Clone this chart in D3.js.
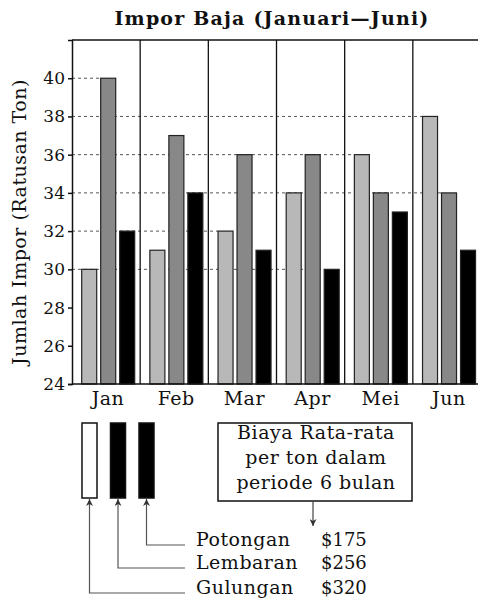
<!DOCTYPE html>
<html>
<head>
<meta charset="utf-8">
<script src="https://cdn.jsdelivr.net/npm/d3@7"></script>
<style>
  body { margin: 0; background: #fff; }
  svg text { font-family: "DejaVu Serif", serif; fill: #111; }
  .word { font-size: 19px; letter-spacing: 0.5px; }
</style>
</head>
<body>
<div id="graph"></div>
<script>
// data
let months = ['Jan', 'Feb', 'Mar', 'Apr', 'Mei', 'Jun']
let series = ['Gulungan', 'Lembaran', 'Potongan']
let gulungan = [30, 31, 32, 34, 36, 38]
let lembaran = [40, 37, 36, 36, 34, 34]
let potongan = [32, 34, 31, 30, 33, 31]
let yTicks = [24, 26, 28, 30, 32, 34, 36, 38, 40]
let prices = [320, 256, 175]
let boxLines = ['Biaya Rata-rata', 'per ton dalam', 'periode 6 bulan']

let barColors = ['#b8b8b8', '#888888', '#000000']
let swatchColors = ['#ffffff', '#000000', '#000000']

let values = [gulungan, lembaran, potongan]
let rows = []
months.forEach((m, i) => {
    series.forEach((s, j) => {
        rows.push({ month: m, series: s, value: values[j][i], idx: j })
    })
})

let width = 478, height = 603
let margin = { top: 40, left: 72, bottom: 384, right: 481 }

let svg = d3.select('#graph').append('svg')
    .attr('width', width)
    .attr('height', height)

svg.append('defs').append('marker')
    .attr('id', 'arrow')
    .attr('viewBox', '0 0 10 10')
    .attr('refX', 10).attr('refY', 5)
    .attr('markerWidth', 7).attr('markerHeight', 7)
    .attr('markerUnits', 'userSpaceOnUse')
    .attr('orient', 'auto')
    .append('path')
    .attr('d', 'M0,0 L10,5 L0,10 L3,5 Z')
    .attr('fill', '#333')

let x0 = d3.scaleBand().domain(months).range([margin.left, margin.right])
let x1 = d3.scaleBand().domain(series).range([9.7, 62.7]).paddingInner(0.21)
let y = d3.scaleLinear().domain([24, 42]).range([margin.bottom, margin.top])

// title
svg.append('text')
    .attr('x', 272).attr('y', 25)
    .attr('text-anchor', 'middle')
    .attr('font-weight', 'bold')
    .attr('font-size', 19)
    .attr('letter-spacing', 1.2)
    .text('Impor Baja (Januari\u2014Juni)')

// y label
svg.append('text')
    .attr('class', 'word')
    .attr('transform', 'translate(26,222) rotate(-90)')
    .attr('text-anchor', 'middle')
    .attr('letter-spacing', 0.3)
    .text('Jumlah Impor (Ratusan Ton)')

// dashed guide lines: from axis to the last bar that hits the tick value
yTicks.forEach(t => {
    let hits = rows.filter(r => r.value === t)
    if (hits.length == 0) return
    let last = hits[hits.length - 1]
    svg.append('line')
        .attr('x1', margin.left).attr('x2', x0(last.month) + x1(last.series))
        .attr('y1', y(t)).attr('y2', y(t))
        .attr('stroke', '#555')
        .attr('stroke-width', 1)
        .attr('stroke-dasharray', '3,3')
})

// group dividers
svg.append('g')
    .selectAll('line')
    .data(months.slice(1))
    .join('line')
    .attr('x1', d => x0(d)).attr('x2', d => x0(d))
    .attr('y1', margin.top).attr('y2', margin.bottom)
    .attr('stroke', '#111')
    .attr('stroke-width', 1.3)

// bars
svg.append('g')
    .selectAll('rect')
    .data(rows)
    .join('rect')
    .attr('x', d => x0(d.month) + x1(d.series))
    .attr('width', x1.bandwidth())
    .attr('y', d => y(d.value))
    .attr('height', d => y(24) - y(d.value))
    .attr('fill', d => barColors[d.idx])
    .attr('stroke', '#222')
    .attr('stroke-width', 1.2)

// frame
svg.append('line')
    .attr('x1', margin.left).attr('x2', width)
    .attr('y1', margin.top).attr('y2', margin.top)
    .attr('stroke', '#111').attr('stroke-width', 1.3)
svg.append('line')
    .attr('x1', margin.left).attr('x2', width)
    .attr('y1', margin.bottom).attr('y2', margin.bottom)
    .attr('stroke', '#111').attr('stroke-width', 1.5)

// y axis
let yAxis = svg.append('g')
    .attr('transform', `translate(${margin.left},0)`)
    .call(d3.axisLeft(y).tickValues(yTicks).tickSize(4).tickPadding(3))
yAxis.select('.domain').attr('stroke', '#111').attr('stroke-width', 1.5)
yAxis.selectAll('.tick line').attr('stroke', '#111').attr('stroke-width', 1.5)
yAxis.selectAll('text')
    .attr('font-family', '"DejaVu Serif", serif')
    .attr('font-size', 17)
    .attr('fill', '#111')

// x labels
svg.append('g')
    .selectAll('text')
    .data(months)
    .join('text')
    .attr('class', 'word')
    .attr('x', d => x0(d) + 36)
    .attr('y', 405)
    .attr('text-anchor', 'middle')
    .text(d => d)

// legend swatches
let swX = [82, 110.5, 139]
let rowY = [593, 568, 545]
let legend = svg.append('g')
series.forEach((s, i) => {
    legend.append('rect')
        .attr('x', swX[i]).attr('y', 423)
        .attr('width', 15).attr('height', 75)
        .attr('fill', swatchColors[i])
        .attr('stroke', '#111')
        .attr('stroke-width', 1.5)
    let cx = swX[i] + 7.5
    legend.append('path')
        .attr('d', `M185,${rowY[i]} H${cx} V499`)
        .attr('fill', 'none')
        .attr('stroke', '#555')
        .attr('stroke-width', 1.2)
        .attr('marker-end', 'url(#arrow)')
    legend.append('text')
        .attr('class', 'word')
        .attr('x', 196).attr('y', rowY[i] + 1)
        .text(s)
    legend.append('text')
        .attr('x', 321).attr('y', rowY[i] + 1)
        .attr('font-size', 18)
        .text('$' + prices[i])
})

// cost box
svg.append('rect')
    .attr('x', 218).attr('y', 423)
    .attr('width', 194).attr('height', 78)
    .attr('fill', '#fff')
    .attr('stroke', '#111')
    .attr('stroke-width', 1.5)
svg.append('g')
    .selectAll('text')
    .data(boxLines)
    .join('text')
    .attr('class', 'word')
    .attr('x', 316)
    .attr('y', (d, i) => 439 + i * 25)
    .attr('text-anchor', 'middle')
    .text(d => d)
svg.append('line')
    .attr('x1', 313).attr('x2', 313)
    .attr('y1', 501).attr('y2', 526)
    .attr('stroke', '#444')
    .attr('stroke-width', 1.2)
    .attr('marker-end', 'url(#arrow)')
</script>
</body>
</html>
